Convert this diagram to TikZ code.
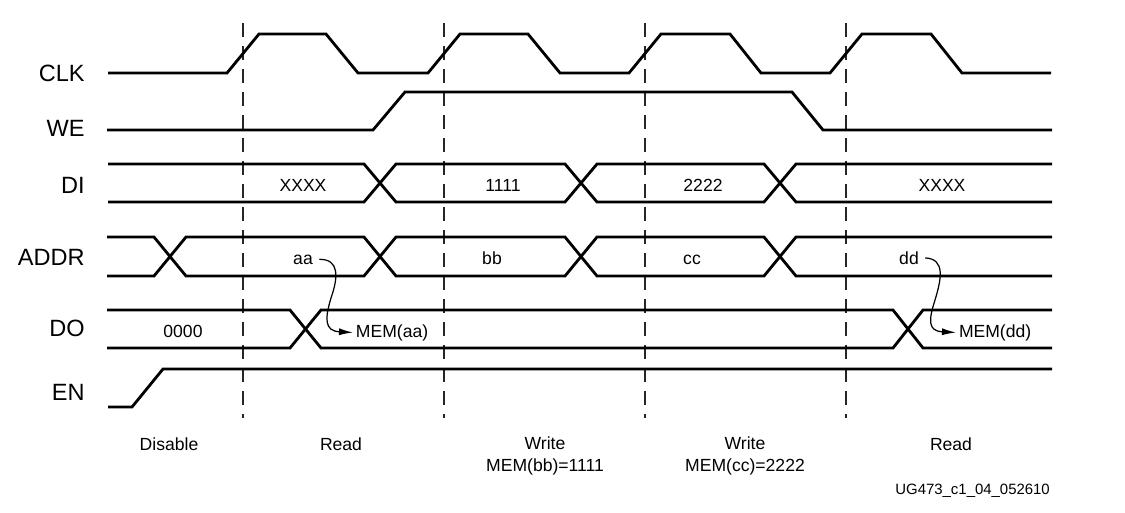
\documentclass[tikz,border=0pt]{standalone}
\usepackage{fontspec}
\setmainfont{Liberation Sans}
\usepackage{tikz}
\usetikzlibrary{arrows.meta}

\begin{document}
\begin{tikzpicture}[x=0.02cm, y=-0.02cm,
    wave/.style={line width=1.6pt, line join=miter},
    cycline/.style={gray!30!black, line width=1pt, dash pattern=on 0.28cm off 0.18cm},
    signame/.style={font=\fontsize{13.4}{16}\selectfont, anchor=base east, inner sep=0pt},
    busval/.style={font=\fontsize{10}{12}\selectfont, anchor=base, inner sep=1.5pt},
    phase/.style={font=\fontsize{10}{12.3}\selectfont, anchor=base, align=center, inner sep=0pt},
    fetch/.style={-{Latex[length=8pt,width=4pt]}, line width=0.7pt, shorten <=2pt}]
  \useasboundingbox (0,0) rectangle (1125,512);
  % Clock edges
  \draw[cycline] (243,23) -- (243,418);
  \draw[cycline] (444,23) -- (444,418);
  \draw[cycline] (645,23) -- (645,418);
  \draw[cycline] (846,23) -- (846,418);
  % Signal names
  \node[signame] (clk)  at (85,81)  {CLK};
  \node[signame] (we)   at (85,136) {WE};
  \node[signame] (di)   at (85,193) {DI};
  \node[signame] (addr) at (85,265) {ADDR};
  \node[signame] (do)   at (85,336) {DO};
  \node[signame] (en)   at (85,400) {EN};
  % CLK
  \draw[wave] (108,73) -- (227,73) -- (259,34) -- (326,34) -- (358,73) -- (428,73)
    -- (460,34) -- (528,34) -- (560,73) -- (629,73) -- (661,34) -- (730,34)
    -- (761,73) -- (830,73) -- (862,34) -- (931,34) -- (962,73) -- (1051,73);
  % WE
  \draw[wave] (107,130) -- (373,130) -- (405,92) -- (792,92) -- (823,130) -- (1052,130);
  % DI bus
  \draw[wave] (108,164) -- (364,164) -- (396,202) -- (565,202) -- (597,164)
    -- (764,164) -- (796,202) -- (1052,202);
  \draw[wave] (108,202) -- (364,202) -- (396,164) -- (565,164) -- (597,202)
    -- (764,202) -- (796,164) -- (1052,164);
  \node[busval] (dix1) at (303,191) {XXXX};
  \node[busval] (di1)  at (503,191) {1111};
  \node[busval] (di2)  at (703,191) {2222};
  \node[busval] (dix2) at (942,191) {XXXX};
  % ADDR bus
  \draw[wave] (107,237) -- (154,237) -- (186,276) -- (364,276) -- (396,237)
    -- (565,237) -- (597,276) -- (764,276) -- (796,237) -- (1052,237);
  \draw[wave] (107,276) -- (154,276) -- (186,237) -- (364,237) -- (396,276)
    -- (565,276) -- (597,237) -- (764,237) -- (796,276) -- (1052,276);
  \node[busval] (aa) at (303,264) {aa};
  \node[busval] (bb) at (492,264) {bb};
  \node[busval] (cc) at (692,264) {cc};
  \node[busval] (dd) at (909,264) {dd};
  % DO bus
  \draw[wave] (107,310) -- (290,310) -- (321,348) -- (893,348) -- (923,310) -- (1052,310);
  \draw[wave] (107,348) -- (290,348) -- (321,310) -- (893,310) -- (923,348) -- (1052,348);
  \node[busval] (do0) at (183,337) {0000};
  \node[busval, anchor=base west] (memaa) at (353,337) {MEM(aa)};
  \node[busval, anchor=base west] (memdd) at (956,337) {MEM(dd)};
  % EN
  \draw[wave] (108,407) -- (132,407) -- (163,369) -- (1052,369);
  % Read paths
  \draw[fetch] (aa.east) .. controls (340,259) and (338,278) .. (331,298)
    .. controls (325,318) and (324,331) .. (memaa.west);
  \draw[fetch] (dd.east) .. controls (946,259) and (941,280) .. (935,300)
    .. controls (929,319) and (927,331) .. (memdd.west);
  % Operations
  \node[phase] (disable) at (169,450) {Disable};
  \node[phase] (read1)   at (341,450) {Read};
  \node[phase] (write1)  at (545,471) {Write\\MEM(bb)=1111};
  \node[phase] (write2)  at (745,471) {Write\\MEM(cc)=2222};
  \node[phase] (read2)   at (951,450) {Read};
  \node[font=\fontsize{8.5}{10}\selectfont, anchor=base west, inner sep=0pt] (figid)
    at (895,494) {UG473\_c1\_04\_052610};
\end{tikzpicture}
\end{document}
